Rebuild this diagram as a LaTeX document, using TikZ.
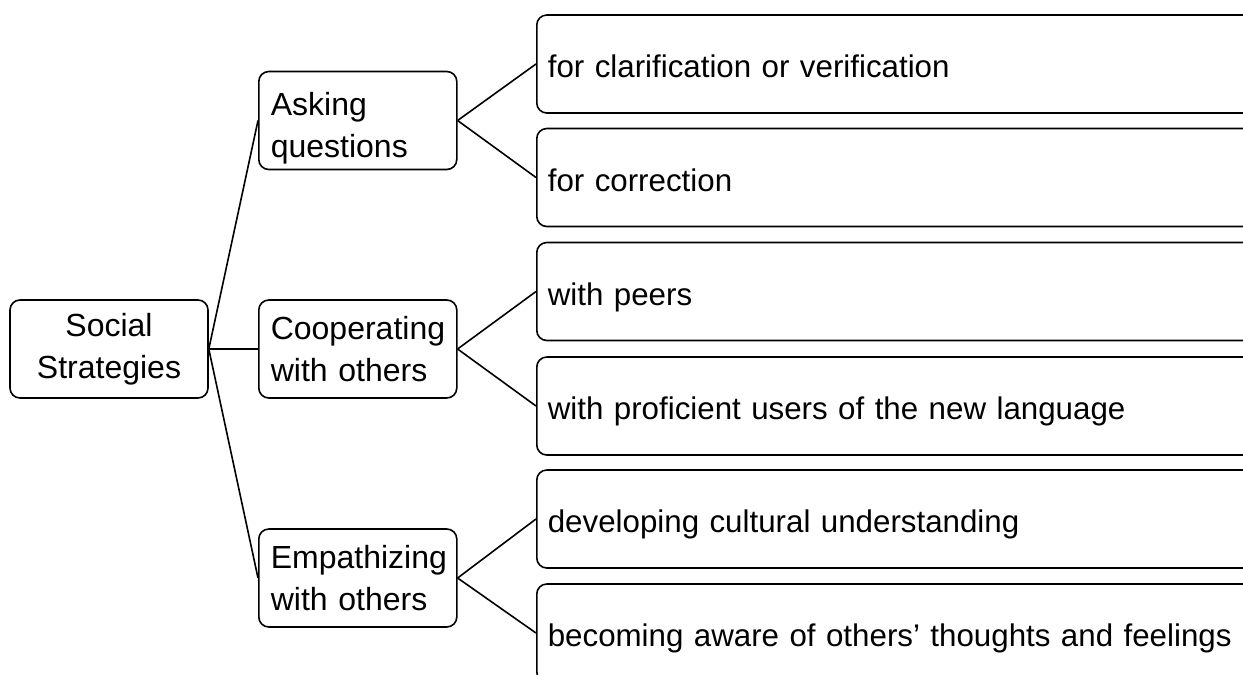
\documentclass[tikz,border=0pt]{standalone}
\usepackage{fontspec}
\setmainfont{Liberation Sans}
\begin{document}
\begin{tikzpicture}[x=1pt,y=-1pt,
  box/.style={draw=black, line width=1.6pt, rounded corners=10pt,
    minimum height=98pt, inner sep=0pt},
  rootbox/.style={box, minimum width=198pt, align=center,
    font=\fontsize{32}{42}\selectfont},
  midbox/.style={box, anchor=west, minimum width=198pt, text width=174pt,
    inner xsep=12pt, align=left, font=\fontsize{32}{42}\selectfont},
  leafbox/.style={box, anchor=west, minimum width=740pt, text width=720pt,
    inner xsep=11pt, align=left, text height=30pt, text depth=3pt,
    font=\fontsize{31.3}{40}\selectfont},
  link/.style={draw=black, line width=1.6pt}]
\useasboundingbox (0,0) rectangle (1243,675);
\clip (0,0) rectangle (1243,675);

% root
\node[rootbox] (root) at (109,349) {Social\\Strategies};

% second level
\node[midbox, text height=39pt] (ask) at (258,120.5) {Asking\\questions};
\node[midbox] (coop) at (258,349) {Cooperating\\with others};
\node[midbox] (emp)  at (258,578) {Empathizing\\with others};

% leaves
\node[leafbox] (a1) at (536,64)    {for clarification or verification};
\node[leafbox] (a2) at (536,177.5) {for correction};
\node[leafbox] (c1) at (536,291.5) {with peers};
\node[leafbox] (c2) at (536,406)   {with proficient users of the new language};
\node[leafbox] (e1) at (536,519)   {developing cultural understanding};
\node[leafbox] (e2) at (536,633)   {becoming aware of others’ thoughts and feelings};

% connectors
\draw[link] (root.east) -- (ask.west);
\draw[link] (root.east) -- (coop.west);
\draw[link] (root.east) -- (emp.west);
\draw[link] (ask.east) -- (a1.west);
\draw[link] (ask.east) -- (a2.west);
\draw[link] (coop.east) -- (c1.west);
\draw[link] (coop.east) -- (c2.west);
\draw[link] (emp.east) -- (e1.west);
\draw[link] (emp.east) -- (e2.west);
\end{tikzpicture}
\end{document}
